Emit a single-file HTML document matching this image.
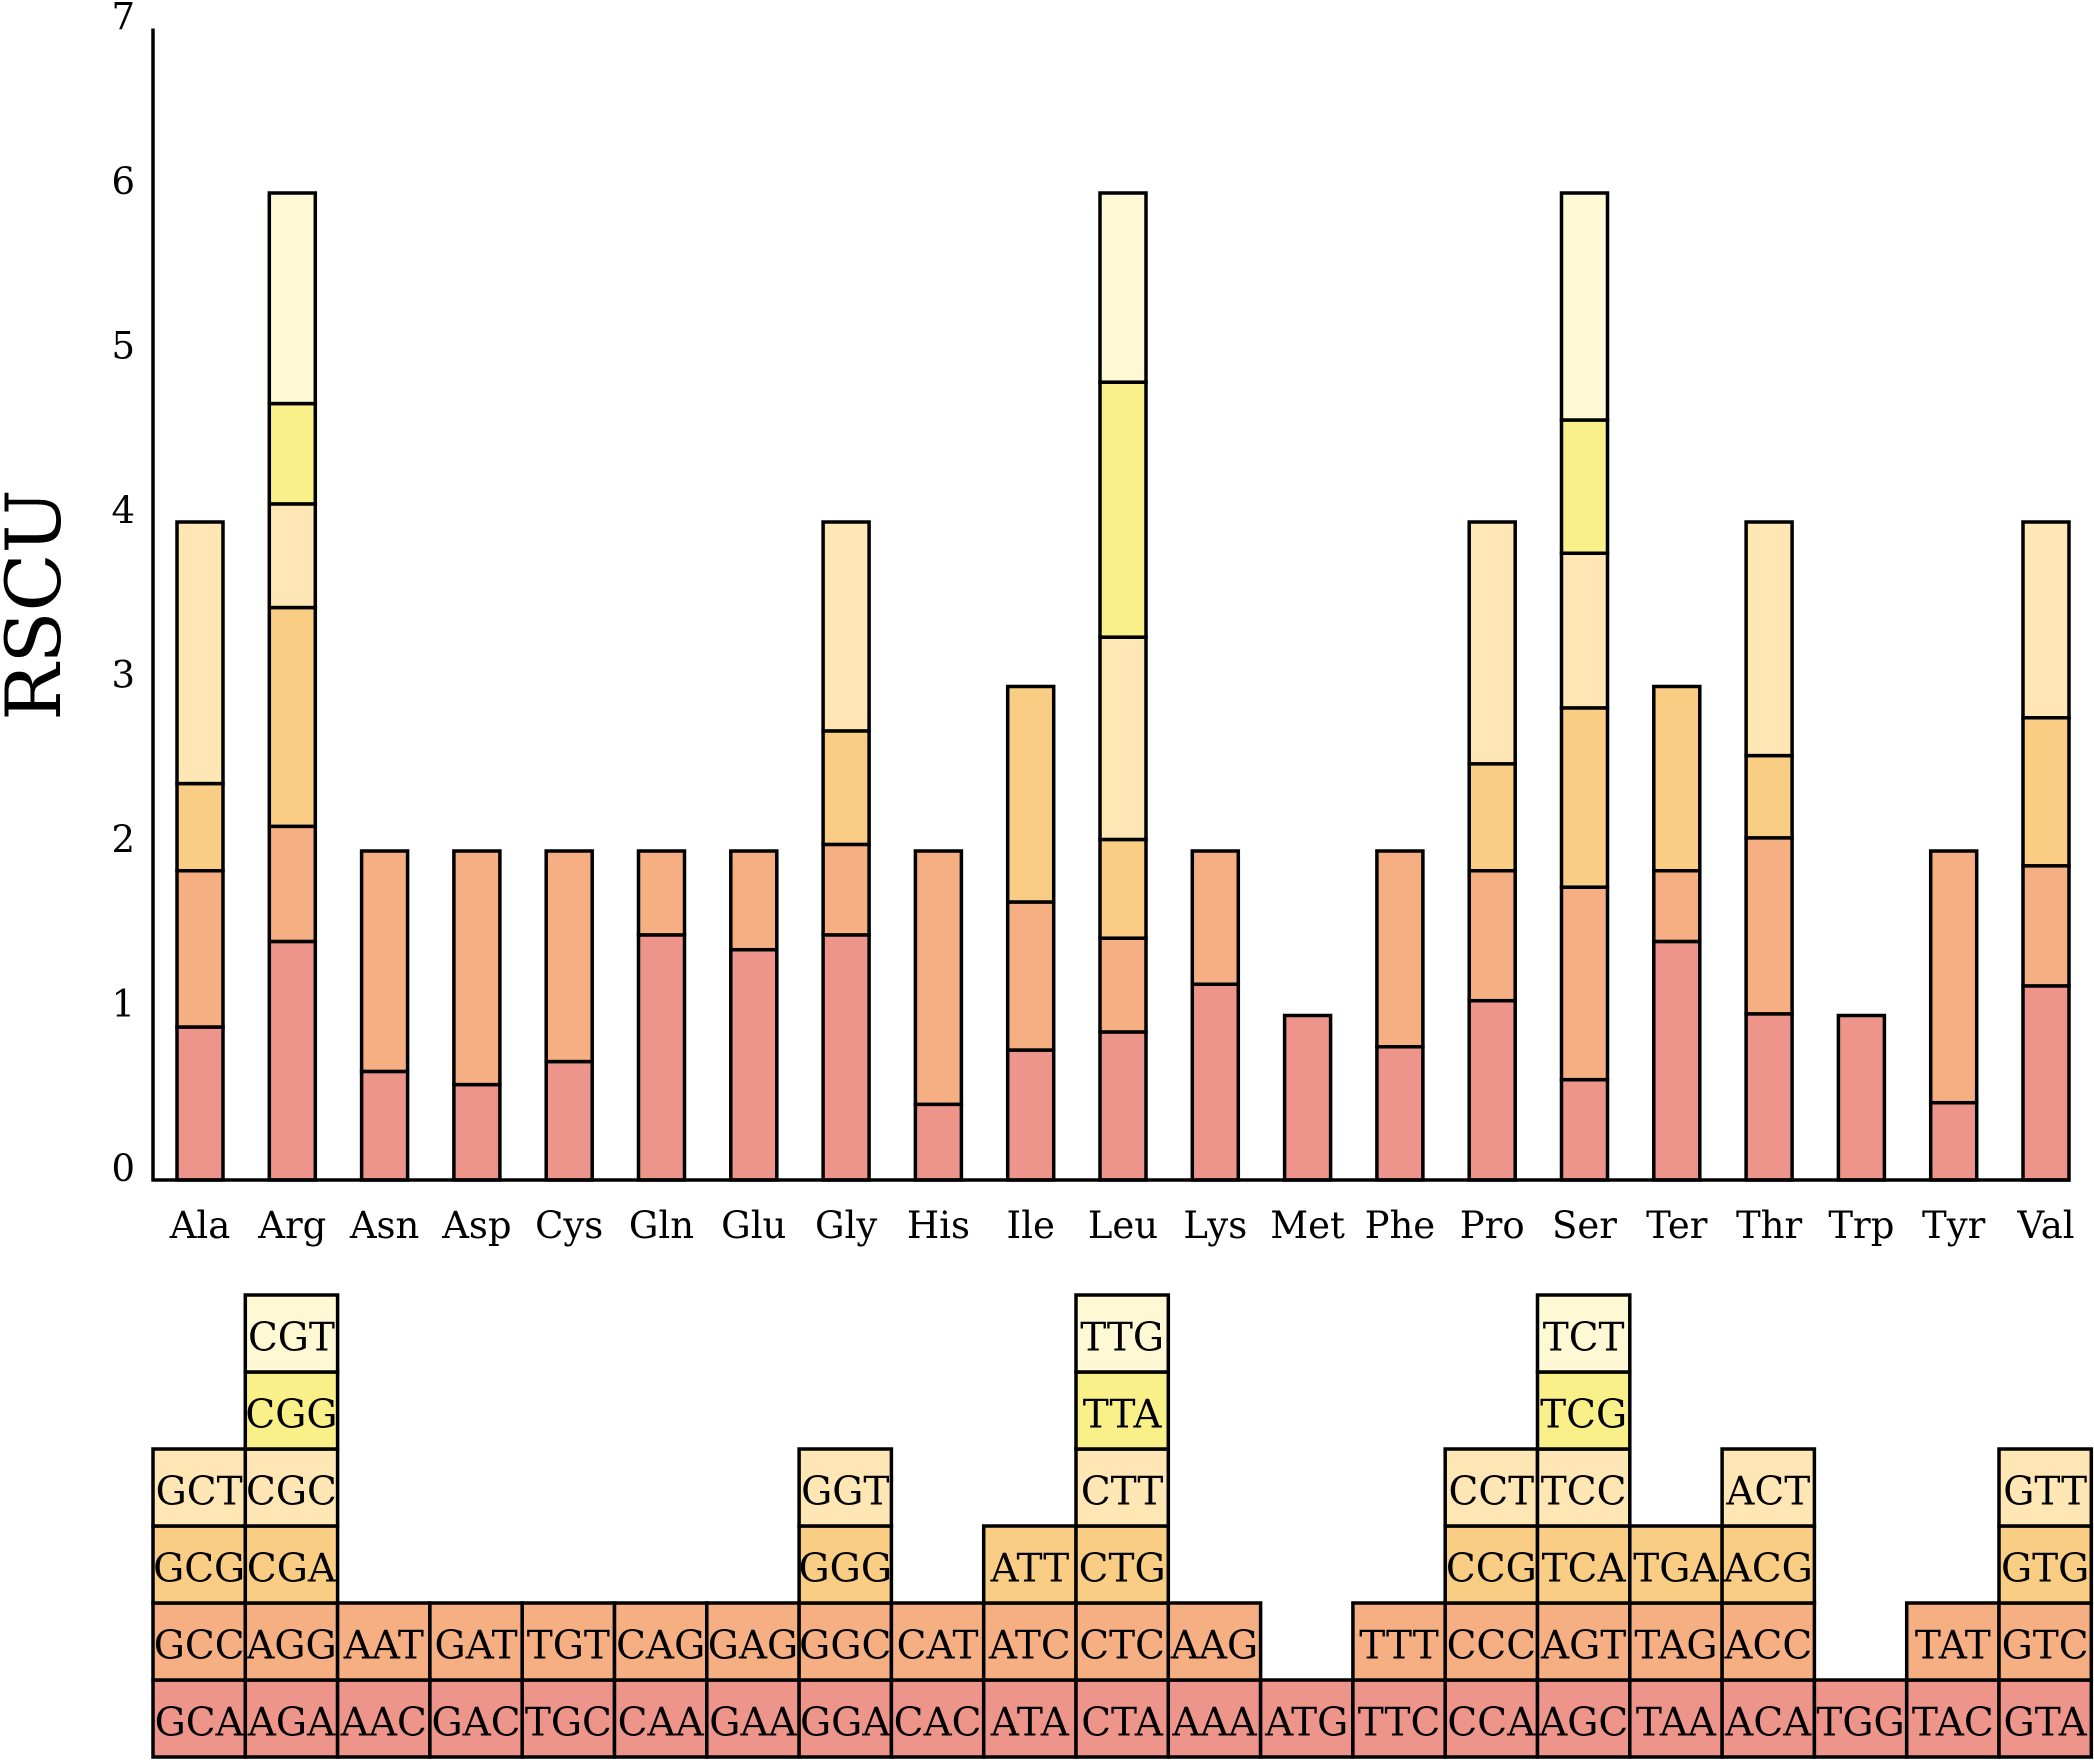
<!DOCTYPE html>
<html><head><meta charset="utf-8">
<style>
html,body{margin:0;padding:0;background:#fff;}
svg{display:block;}
text{font-family:"DejaVu Serif","Liberation Serif",serif;fill:#000;}
</style></head>
<body>
<svg id="chart" width="2094" height="1760" viewBox="0 0 2094 1760" xmlns="http://www.w3.org/2000/svg">
<g id="bars"></g>
<g id="axes"></g>
<g id="table"></g>
</svg>
<script>
const aminoAcids = ["Ala","Arg","Asn","Asp","Cys","Gln","Glu","Gly","His","Ile","Leu","Lys","Met","Phe","Pro","Ser","Ter","Thr","Trp","Tyr","Val"];
const codons = [
 ["GCA","GCC","GCG","GCT"],
 ["AGA","AGG","CGA","CGC","CGG","CGT"],
 ["AAC","AAT"],["GAC","GAT"],["TGC","TGT"],["CAA","CAG"],["GAA","GAG"],
 ["GGA","GGC","GGG","GGT"],["CAC","CAT"],["ATA","ATC","ATT"],
 ["CTA","CTC","CTG","CTT","TTA","TTG"],["AAA","AAG"],["ATG"],["TTC","TTT"],
 ["CCA","CCC","CCG","CCT"],["AGC","AGT","TCA","TCC","TCG","TCT"],
 ["TAA","TAG","TGA"],["ACA","ACC","ACG","ACT"],["TGG"],["TAC","TAT"],
 ["GTA","GTC","GTG","GTT"]
];
const rscu = [
 [0.93,0.95,0.53,1.59],
 [1.45,0.70,1.33,0.63,0.61,1.28],
 [0.66,1.34],[0.58,1.42],[0.72,1.28],[1.49,0.51],[1.40,0.60],
 [1.49,0.55,0.69,1.27],[0.46,1.54],[0.79,0.90,1.31],
 [0.90,0.57,0.60,1.23,1.55,1.15],[1.19,0.81],[1.00],[0.81,1.19],
 [1.09,0.79,0.65,1.47],[0.61,1.17,1.09,0.94,0.81,1.38],
 [1.45,0.43,1.12],[1.01,1.07,0.50,1.42],[1.00],[0.47,1.53],
 [1.18,0.73,0.90,1.19]
];
const yTicks = [0,1,2,3,4,5,6,7];
const colors = ["#EE958B","#F5AF82","#F9CD83","#FEE7B5","#FAF08A","#FEF8D4"];

const NS="http://www.w3.org/2000/svg";
const x0=153, step=92.3, barW=46, yBase=1180, unit=164.5;
const xC = i => x0 + 47 + i*step;
const yS = v => yBase - v*unit;
function mk(tag, attrs, parent){const e=document.createElementNS(NS,tag);for(const k in attrs)e.setAttribute(k,attrs[k]);parent.appendChild(e);return e;}

const bars=document.getElementById('bars'), axes=document.getElementById('axes'), table=document.getElementById('table');

aminoAcids.forEach((aa,i)=>{
  let cum=0;
  rscu[i].forEach((v,j)=>{
    const r=mk('rect',{x:xC(i)-barW/2,y:yS(cum+v),width:barW,height:v*unit,fill:colors[j],stroke:'#000','stroke-width':3.5},bars);
    
    
    cum+=v;
  });
  const t=mk('text',{x:xC(i),y:1238,'font-size':37,'text-anchor':'middle'},axes);
  t.textContent=aa;
  
  
});

const yl=mk('line',{x1:x0,y1:yS(7),x2:x0,y2:yBase+1.5,stroke:'#000','stroke-width':3.5},axes);


const xl=mk('line',{x1:x0-1.5,y1:yBase,x2:2070,y2:yBase,stroke:'#000','stroke-width':3.5},axes);


yTicks.forEach(v=>{
  const t=mk('text',{x:135,y:yS(v)+1,'font-size':37,'text-anchor':'end'},axes);
  t.textContent=v;
  
  
});
const yt=mk('text',{x:0,y:0,'font-size':76,'text-anchor':'middle',transform:'translate(60,605) rotate(-90)'},axes);
yt.textContent='RSCU';



const rowH=77, tBottom=1757;
aminoAcids.forEach((aa,i)=>{
  codons[i].forEach((c,j)=>{
    const x=x0+i*step, y=tBottom-(j+1)*rowH;
    const r=mk('rect',{x:x,y:y,width:step,height:rowH,fill:colors[j],stroke:'#000','stroke-width':3.5},table);
    
    
    const t=mk('text',{x:x+step/2,y:y+rowH/2+17,'font-size':39,'text-anchor':'middle'},table);
    t.textContent=c;
    
    
  });
});
</script>
</body></html>
